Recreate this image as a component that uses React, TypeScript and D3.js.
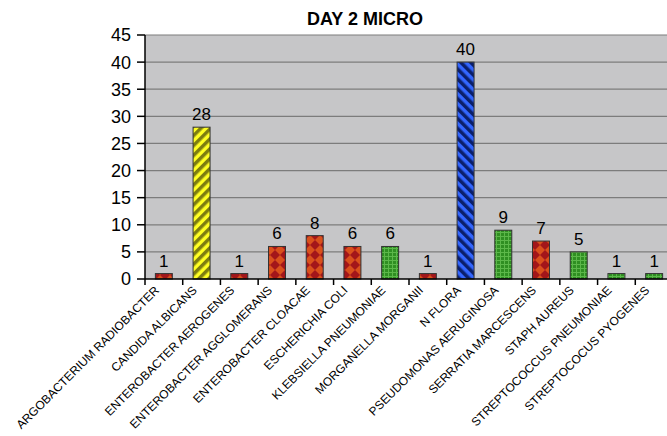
import * as d3 from 'd3';

const categories = [
  'ARGOBACTERIUM RADIOBACTER',
  'CANDIDA ALBICANS',
  'ENTEROBACTER AEROGENES',
  'ENTEROBACTER AGGLOMERANS',
  'ENTEROBACTER CLOACAE',
  'ESCHERICHIA COLI',
  'KLEBSIELLA PNEUMONIAE',
  'MORGANELLA MORGANII',
  'N FLORA',
  'PSEUDOMONAS AERUGINOSA',
  'SERRATIA MARCESCENS',
  'STAPH AUREUS',
  'STREPTOCOCCUS PNEUMONIAE',
  'STREPTOCOCUS PYOGENES',
];
const counts = [1, 28, 1, 6, 8, 6, 6, 1, 40, 9, 7, 5, 1, 1];
// fill group for each bar
const fills = ['red', 'yellow', 'red', 'red', 'red', 'red', 'green', 'red', 'blue', 'green', 'red', 'green', 'green', 'green'];
const yTicks = [0, 5, 10, 15, 20, 25, 30, 35, 40, 45];

const W = 667;
const H = 436;
const left = 145;
const top = 35;
const bottom = 279;
const right = 673;

const font = '"Liberation Sans", Arial, sans-serif';

export default function App() {
  const x = d3
    .scaleBand<string>()
    .domain(categories)
    .range([left, right])
    .paddingInner(0.55)
    .paddingOuter(0.275);
  const y = d3.scaleLinear().domain([0, 45]).range([bottom, top]);
  const step = x.step();
  const start = x(categories[0])! - step * 0.275;

  return (
    <svg width={W} height={H} style={{ position: 'absolute', left: 0, top: 0, background: '#fff' }} fontFamily={font}>
      <defs>
        <pattern id="red" width={10} height={10} patternUnits="userSpaceOnUse">
          <rect width={10} height={10} fill="#d9501c" />
          <polygon points="5,0 10,5 5,10 0,5" fill="#a3161a" />
        </pattern>
        <pattern id="yellow" width={7} height={7} patternUnits="userSpaceOnUse" patternTransform="rotate(45)">
          <rect width={7} height={7} fill="#ffff22" />
          <rect width={3.5} height={7} fill="#7d7d10" />
        </pattern>
        <pattern id="blue" width={7} height={7} patternUnits="userSpaceOnUse" patternTransform="rotate(-45)">
          <rect width={7} height={7} fill="#3366ff" />
          <rect width={3.5} height={7} fill="#0b1f6b" />
        </pattern>
        <pattern id="green" width={4} height={4} patternUnits="userSpaceOnUse">
          <rect width={4} height={4} fill="#2f8f22" />
          <rect width={4} height={1} fill="#5cb84a" />
          <rect width={1} height={4} fill="#5cb84a" />
        </pattern>
      </defs>

      <text x={365} y={25} textAnchor="middle" fontSize={18} fontWeight="bold" fill="#000">
        DAY 2 MICRO
      </text>

      <rect x={left} y={top} width={right - left} height={bottom - top} fill="#c6c6c8" />
      {yTicks.map((t) => (
        <g key={t}>
          {t > 0 && <line x1={left} x2={right} y1={y(t)} y2={y(t)} stroke="#7c7c7c" strokeWidth={1.2} />}
          <line x1={left - 8} x2={left} y1={y(t)} y2={y(t)} stroke="#000" strokeWidth={1.5} />
          <text x={left - 14} y={y(t)} dy="0.36em" textAnchor="end" fontSize={18} fill="#000">
            {t}
          </text>
        </g>
      ))}

      {categories.map((c, i) => {
        const v = counts[i];
        const bx = x(c)!;
        return (
          <g key={c}>
            <rect
              x={bx}
              y={y(v)}
              width={x.bandwidth()}
              height={bottom - y(v)}
              fill={`url(#${fills[i]})`}
              stroke="#333"
              strokeWidth={1}
            />
            <text x={bx + x.bandwidth() / 2} y={y(v) - 7} textAnchor="middle" fontSize={17} fill="#000">
              {v}
            </text>
          </g>
        );
      })}

      <line x1={left} x2={left} y1={top} y2={bottom} stroke="#000" strokeWidth={1.5} />
      <line x1={left} x2={right} y1={bottom} y2={bottom} stroke="#000" strokeWidth={1.5} />
      {d3.range(categories.length + 1).map((k) => (
        <line key={k} x1={start + k * step} x2={start + k * step} y1={bottom} y2={bottom + 6} stroke="#000" strokeWidth={1.5} />
      ))}

      {categories.map((c) => {
        const cx = x(c)! + x.bandwidth() / 2;
        return (
          <text
            key={c}
            transform={`translate(${cx - 4},${bottom + 12}) rotate(-45)`}
            textAnchor="end"
            fontSize={12}
            fill="#000"
          >
            {c}
          </text>
        );
      })}
    </svg>
  );
}
